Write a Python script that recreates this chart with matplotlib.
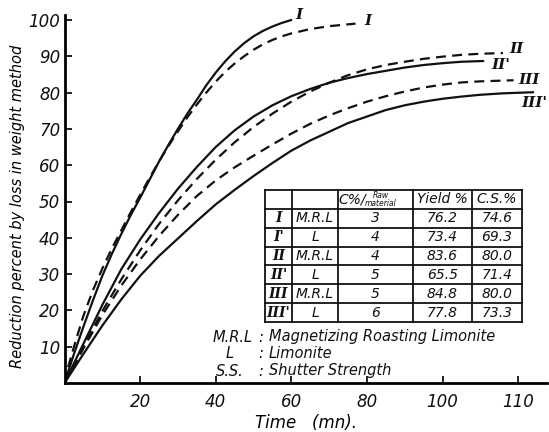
import matplotlib
matplotlib.use("Agg")
import matplotlib.pyplot as plt
from matplotlib.lines import Line2D

# ---- data ----
x_I = [0, 2.5, 5, 7.5, 10, 12.5, 15, 17.5, 20, 22.5, 25, 27.5, 30, 32.5, 35,
       37.5, 40, 42.5, 45, 47.5, 50, 52.5, 55, 57.5, 60]
y_I = [0, 8, 15.5, 22.7, 29.5, 35.5, 41, 46.2, 51, 56, 61, 65.6, 70, 74.2, 78,
       82, 85.5, 88.6, 91.3, 93.6, 95.5, 97, 98.2, 99.2, 100]

x_Ip = [0, 1, 2.5, 5, 7.5, 10, 12.5, 15, 17.5, 20, 22.5, 25, 27.5, 30, 32.5, 35,
        37.5, 40, 42.5, 45, 47.5, 50, 52.5, 55, 57.5, 60, 65, 70, 77]
y_Ip = [0, 4.5, 10, 18.5, 25.5, 31.5, 37, 42, 47, 51.8, 56.5, 61, 65.3, 69.3, 73.2, 76.7,
        80, 83, 85.7, 88, 90, 91.8, 93.3, 94.5, 95.5, 96.3, 97.5, 98.3, 99]

x_IIp = [0, 5, 10, 15, 20, 25, 30, 35, 40, 45, 50, 55, 60, 65, 70, 75, 80, 85,
         90, 95, 100, 105, 110.8]
y_IIp = [0, 10.8, 21.5, 31.3, 39.5, 46.8, 53.5, 59.5, 65, 69.6, 73.4, 76.5, 79, 81, 82.7,
         84, 85.1, 86, 86.9, 87.6, 88.1, 88.5, 88.7]

x_II = [0, 5, 10, 15, 20, 25, 30, 35, 40, 45, 50, 55, 60, 65, 70, 75, 80, 85, 90,
        95, 100, 105, 110, 116]
y_II = [0, 10, 19.8, 28.5, 36.5, 43.8, 50.3, 56.2, 61.5, 66.3, 70.5, 74.2, 77.5, 80.3,
        82.7, 84.8, 86.4, 87.6, 88.5, 89.3, 89.9, 90.4, 90.7, 90.9]

x_III = [0, 5, 10, 15, 20, 25, 30, 35, 40, 45, 50, 55, 60, 65, 70, 75, 80, 85, 90,
         95, 100, 105, 110, 118.8]
y_III = [0, 9.5, 18.7, 26.8, 34, 40.5, 46.3, 51.5, 55.8, 59.4, 62.6, 65.7, 68.7, 71.4,
         73.7, 75.7, 77.5, 79, 80.3, 81.4, 82.2, 82.8, 83.1, 83.4]

x_IIIp = [0, 5, 10, 15, 20, 25, 30, 35, 40, 45, 50, 55, 60, 65, 70, 75, 80, 85, 90,
          95, 100, 105, 110, 116, 124]
y_IIIp = [0, 8, 15.8, 23, 29.5, 35, 39.8, 44.6, 49.2, 53.2, 57, 60.6, 64, 66.8, 69.2,
          71.6, 73.4, 75.2, 76.5, 77.5, 78.3, 78.9, 79.4, 79.8, 80.1]

x_ticks = [20, 40, 60, 80, 100, 120]
x_ticklabels = ["20", "40", "60", "80", "100", "110"]
y_ticks = [10, 20, 30, 40, 50, 60, 70, 80, 90, 100]

table_header = ["", "", "C%/", "Yield %", "C.S.%"]
row_ids = ["I", "I'", "II", "II'", "III", "III'"]
row_ore = ["M.R.L", "L", "M.R.L", "L", "M.R.L", "L"]
row_c = ["3", "4", "4", "5", "5", "6"]
row_yield = ["76.2", "73.4", "83.6", "65.5", "84.8", "77.8"]
row_cs = ["74.6", "69.3", "80.0", "71.4", "80.0", "73.3"]

notes = [("M.R.L", "Magnetizing Roasting Limonite"),
         ("L", "Limonite"),
         ("S.S.", "Shutter Strength")]

# ---- figure ----
W, H = 549, 432
fig = plt.figure(figsize=(W / 100, H / 100), dpi=100)
fig.patch.set_facecolor("white")

x0, y0 = 64.5, 383.0
sx, sy = 3.78, 3.63
ax = fig.add_axes([x0 / W, (H - y0) / H, (547 - x0) / W, (y0 - 15) / H])
ax.set_xlim(0, (547 - x0) / sx)
ax.set_ylim(0, (y0 - 15) / sy)
for s in ["top", "right"]:
    ax.spines[s].set_visible(False)
for s in ["left", "bottom"]:
    ax.spines[s].set_linewidth(2.0)

ink = "#111111"
solid = dict(color=ink, lw=1.6, solid_capstyle="round", solid_joinstyle="round")
dashed = dict(color=ink, lw=1.6, linestyle=(0, (4.5, 2.8)))

ax.plot(x_I, y_I, **solid)
ax.plot(x_Ip, y_Ip, **dashed)
ax.plot(x_IIp, y_IIp, **solid)
ax.plot(x_II, y_II, **dashed)
ax.plot(x_III, y_III, **dashed)
ax.plot(x_IIIp, y_IIIp, **solid)

lab = dict(family="DejaVu Serif", style="italic", fontsize=11, color=ink,
           fontweight="bold", clip_on=False)
ax.text(61.2, 101.5, "I", ha="left", va="center", **lab)
ax.text(79.2, 99.7, "I", ha="left", va="center", **lab)
ax.text(117.8, 92.0, "II", ha="left", va="center", **lab)
ax.text(113.0, 87.6, "II'", ha="left", va="center", **lab)
ax.text(120.0, 83.4, "III", ha="left", va="center", **lab)
ax.text(120.8, 77.2, "III'", ha="left", va="center", **lab)

ax.set_xticks(x_ticks)
ax.set_xticklabels(x_ticklabels)
ax.set_yticks(y_ticks)
ax.set_yticklabels([str(v) for v in y_ticks])
ax.tick_params(direction="in", length=5, width=1.3, colors=ink, labelsize=12)
for t in ax.get_xticklabels() + ax.get_yticklabels():
    t.set_fontstyle("italic")
ax.tick_params(axis="x", pad=7)
ax.tick_params(axis="y", pad=3)

ax.set_xlabel("Time   (mn).", fontsize=12, fontstyle="italic", labelpad=2)
ax.set_ylabel("Reduction percent by loss in weight method", fontsize=10.5,
              fontstyle="italic")
ax.yaxis.set_label_coords(-0.082, 0.48)

# ---- table (figure pixel coordinates) ----
def fx(px):
    return px / W

def fy(py):
    return 1 - py / H

cols = [265, 292, 338, 413, 472, 522]
rows = [190 + i * (322 - 190) / 7 for i in range(8)]
for c in cols:
    fig.add_artist(Line2D([fx(c), fx(c)], [fy(rows[0]), fy(rows[-1])], color=ink, lw=1.3))
for r in rows:
    fig.add_artist(Line2D([fx(cols[0]), fx(cols[-1])], [fy(r), fy(r)], color=ink, lw=1.3))

tk = dict(fontsize=10, fontstyle="italic", color=ink, ha="center", va="center")
hy = (rows[0] + rows[1]) / 2
fig.text(fx(352), fy(hy), "C%/", **tk)
fig.text(fx(381), fy(hy - 4), "Raw", fontsize=5.5, fontstyle="italic", color=ink, ha="center", va="center")
fig.text(fx(381), fy(hy + 4), "material", fontsize=5.5, fontstyle="italic", color=ink, ha="center", va="center")
fig.text(fx((cols[3] + cols[4]) / 2), fy(hy), table_header[3], **tk)
fig.text(fx((cols[4] + cols[5]) / 2), fy(hy), table_header[4], **tk)
for i in range(6):
    cy = fy((rows[i + 1] + rows[i + 2]) / 2)
    fig.text(fx((cols[0] + cols[1]) / 2), cy, row_ids[i], family="DejaVu Serif",
             fontweight="bold", fontsize=10, fontstyle="italic", color=ink, ha="center", va="center")
    fig.text(fx((cols[1] + cols[2]) / 2), cy, row_ore[i], **tk)
    fig.text(fx((cols[2] + cols[3]) / 2), cy, row_c[i], **tk)
    fig.text(fx((cols[3] + cols[4]) / 2), cy, row_yield[i], **tk)
    fig.text(fx((cols[4] + cols[5]) / 2), cy, row_cs[i], **tk)

# ---- notes ----
nk = dict(fontsize=10.5, fontstyle="italic", color=ink, va="center")
abbr_x = [213, 226, 216]
for i, (abbr, full) in enumerate(notes):
    py = 337 + i * 17
    fig.text(fx(abbr_x[i]), fy(py), abbr, ha="left", **nk)
    fig.text(fx(261), fy(py), ":", ha="center", **nk)
    fig.text(fx(269), fy(py), full, ha="left", **nk)

fig.savefig("out.png", dpi=100, facecolor="white")
